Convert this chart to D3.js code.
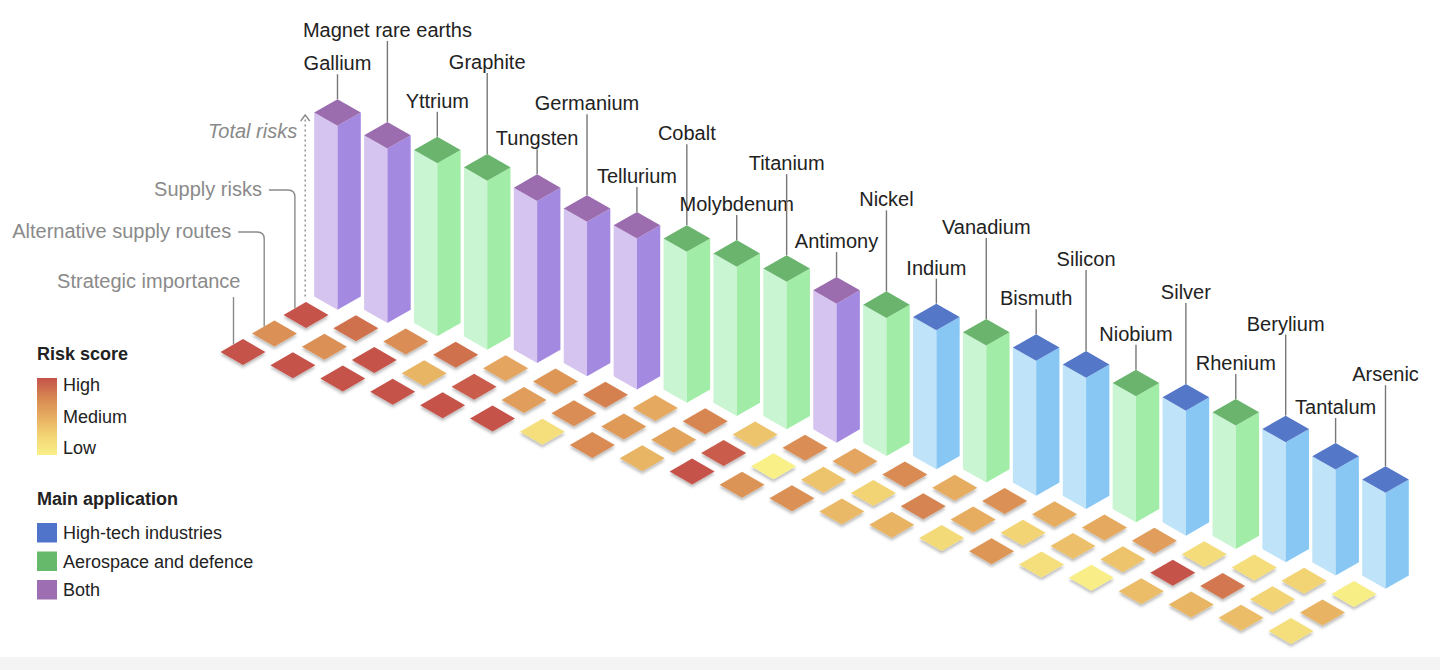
<!DOCTYPE html>
<html>
<head>
<meta charset="utf-8">
<script src="https://cdn.jsdelivr.net/npm/d3@7"></script>
<style>
  body { margin: 0; background: #fff; }
  svg { display: block; font-family: "Liberation Sans", Arial, Helvetica, sans-serif; }
</style>
</head>
<body>
<svg id="chart" width="1440" height="670"></svg>
<script>
// data
const materials = ["Gallium", "Magnet rare earths", "Yttrium", "Graphite", "Tungsten", "Germanium",
  "Tellurium", "Cobalt", "Molybdenum", "Titanium", "Antimony", "Nickel", "Indium", "Vanadium",
  "Bismuth", "Silicon", "Niobium", "Silver", "Rhenium", "Berylium", "Tantalum", "Arsenic"];
const application = ["both", "both", "aero", "aero", "both", "both", "both", "aero", "aero", "aero",
  "both", "aero", "tech", "aero", "tech", "tech", "aero", "tech", "aero", "tech", "tech", "tech"];
// risk scores 0 (low) .. 1 (high)
const strategic = [1.0, 1.0, 1.0, 1.0, 1.0, 1.0, 0.15, 0.72, 0.45, 1.0, 0.66,
  0.68, 0.42, 0.46, 0.2, 0.65, 0.15, 0.03, 0.4, 0.45, 0.4, 0.15];
const alternative = [0.68, 0.68, 1.0, 0.45, 0.95, 0.6, 0.7, 0.62, 0.56, 0.95, 0.0,
  0.36, 0.25, 0.76, 0.5, 0.25, 0.38, 0.36, 1.0, 0.82, 0.25, 0.46];
const supply = [1.0, 0.85, 0.7, 0.85, 0.55, 0.65, 0.78, 0.52, 0.75, 0.35, 0.7,
  0.55, 0.72, 0.5, 0.68, 0.5, 0.52, 0.6, 0.18, 0.17, 0.25, 0.02];
// total risk, 0..10
const totalRisk = [9.2, 8.73, 8.65, 8.45, 8.1, 7.72, 7.55, 7.55, 7.47, 7.38, 6.95,
  6.9, 6.95, 6.85, 6.75, 6.57, 6.3, 6.25, 6.17, 6.0, 5.3, 4.8];

const metricLabels = ["Strategic importance", "Alternative supply routes", "Supply risks", "Total risks"];
const riskLabels = ["High", "Medium", "Low"];
const appKeys = ["tech", "aero", "both"];
const appLabels = ["High-tech industries", "Aerospace and defence", "Both"];

const svg = d3.select("#chart");
const n = materials.length;
const origin = { x: 243, y: 352 };

// isometric placement: material index runs down-right, metric index runs up-right
const colX = d3.scaleLinear().domain([0, n - 1]).range([0, 1048]);
const colY = d3.scaleLinear().domain([0, n - 1]).range([0, 279]);
const rowX = d3.scaleLinear().domain([0, 3]).range([0, 94.5]);
const rowY = d3.scaleLinear().domain([0, 3]).range([0, -55.5]);
const hScale = d3.scaleLinear().domain([0, 10]).range([0, 200]);
const riskColor = d3.scaleLinear()
  .domain([0, 0.25, 0.5, 0.75, 1])
  .range(["#f9f088", "#f2d474", "#e6ad61", "#d78651", "#c5524a"]);

const faces = {
  tech: { left: "#bfe3f8", right: "#88c7f3", top: "#5577c8", key: "#4f74c9" },
  aero: { left: "#c9f5d2", right: "#a1eca7", top: "#6bb46e", key: "#66b86a" },
  both: { left: "#d5c4ef", right: "#a489e0", top: "#9b6cae", key: "#9d6fb2" }
};

const pt = (i, j) => [origin.x + colX(i) + rowX(j), origin.y + colY(i) + rowY(j)];

const defs = svg.append("defs");
const shadow = defs.append("filter").attr("id", "shadow")
  .attr("x", "-20%").attr("y", "-20%").attr("width", "140%").attr("height", "160%");
shadow.append("feDropShadow").attr("dx", 0).attr("dy", 2.5).attr("stdDeviation", 1.6)
  .attr("flood-color", "#000").attr("flood-opacity", 0.28);

const grad = defs.append("linearGradient").attr("id", "riskGrad")
  .attr("x1", 0).attr("y1", 0).attr("x2", 0).attr("y2", 1);
riskColor.domain().slice().reverse().forEach((d, k) => {
  grad.append("stop").attr("offset", k / 4).attr("stop-color", riskColor(d));
});

// faint band at the bottom of the picture
svg.append("rect").attr("x", 0).attr("y", 657).attr("width", 1440).attr("height", 13).attr("fill", "#f4f4f4");

// tiles
const tw = 22.5, th = 13;
const tiles = [];
materials.forEach((m, i) => {
  [strategic[i], alternative[i], supply[i]].forEach((v, j) => tiles.push({ i, j, v }));
});
svg.append("g").selectAll("path").data(tiles).join("path")
  .attr("d", d => {
    const [x, y] = pt(d.i, d.j);
    return `M${x - tw},${y}L${x},${y - th}L${x + tw},${y}L${x},${y + th}Z`;
  })
  .attr("fill", d => riskColor(d.v))
  .attr("filter", "url(#shadow)");

// bars
const bw = 23.3, bh = 13.3;
const bars = svg.append("g").selectAll("g").data(materials).join("g");
bars.each(function (m, i) {
  const [x, y] = pt(i, 3);
  const h = hScale(totalRisk[i]);
  const f = faces[application[i]];
  const g = d3.select(this);
  g.append("path")
    .attr("d", `M${x - bw},${y - h}L${x},${y + bh - h}L${x},${y + bh}L${x - bw},${y}Z`)
    .attr("fill", f.left);
  g.append("path")
    .attr("d", `M${x},${y + bh - h}L${x + bw},${y - h}L${x + bw},${y}L${x},${y + bh}Z`)
    .attr("fill", f.right);
  g.append("path")
    .attr("d", `M${x - bw},${y - h}L${x},${y - bh - h}L${x + bw},${y - h}L${x},${y + bh - h}Z`)
    .attr("fill", f.top);
});

// name labels with leader lines, staggered short / long
const labels = svg.append("g");
materials.forEach((m, i) => {
  const [x, y] = pt(i, 3);
  const top = y - bh - hScale(totalRisk[i]);
  const cy = top - (i % 2 ? 92 : 36);
  labels.append("line")
    .attr("x1", x).attr("x2", x).attr("y1", cy + 11).attr("y2", top)
    .attr("stroke", "#777").attr("stroke-width", 1.4);
  labels.append("text")
    .attr("x", x).attr("y", cy + 7)
    .attr("text-anchor", "middle")
    .attr("font-size", 20).attr("fill", "#222")
    .text(m);
});

// metric annotations on the first column
const ann = svg.append("g").attr("fill", "none").attr("stroke", "#8a8a8a").attr("stroke-width", 1.4);
const annText = svg.append("g").attr("font-size", 20).attr("fill", "#8a8a8a").attr("text-anchor", "end");
const annY = [281, 231, 189, 131];
[0, 1, 2].forEach(j => {
  const [x, y] = pt(0, j);
  const lx = x - 9.5 - j * 0.8;
  const ey = y - th + (x - lx) * th / tw;
  if (j === 0) {
    ann.append("path").attr("d", `M${lx},${annY[j] + 16}V${ey}`);
    annText.append("text").attr("x", lx + 7).attr("y", annY[j] + 7).text(metricLabels[j]);
  } else {
    const tx = lx - 33;
    ann.append("path").attr("d", `M${tx + 7},${annY[j] + 1}H${lx - 7}Q${lx},${annY[j] + 1} ${lx},${annY[j] + 8}V${ey}`);
    annText.append("text").attr("x", tx).attr("y", annY[j] + 7).text(metricLabels[j]);
  }
});
{
  const [x, y] = pt(0, 3);
  const lx = x - bw - 9;
  ann.append("path").attr("d", `M${lx},${y}V${117}`).attr("stroke-dasharray", "2,3");
  ann.append("path").attr("d", `M${lx - 4.5},${121}L${lx},${115}L${lx + 4.5},${121}`);
  annText.append("text").attr("x", lx - 8).attr("y", annY[3] + 7)
    .attr("font-style", "italic").text(metricLabels[3]);
}

// legend
const legend = svg.append("g").attr("font-size", 18).attr("fill", "#222");
legend.append("text").attr("x", 37).attr("y", 360).attr("font-weight", "bold").text("Risk score");
legend.append("rect").attr("x", 37).attr("y", 378).attr("width", 20).attr("height", 77).attr("fill", "url(#riskGrad)");
riskLabels.forEach((t, k) => {
  legend.append("text").attr("x", 63).attr("y", 391 + k * 31.5).text(t);
});
legend.append("text").attr("x", 37).attr("y", 505).attr("font-weight", "bold").text("Main application");
appKeys.forEach((a, k) => {
  legend.append("rect").attr("x", 37).attr("y", 523 + k * 28.5).attr("width", 20).attr("height", 19.5)
    .attr("fill", faces[a].key);
  legend.append("text").attr("x", 63).attr("y", 539 + k * 28.5).text(appLabels[k]);
});
</script>
</body>
</html>
